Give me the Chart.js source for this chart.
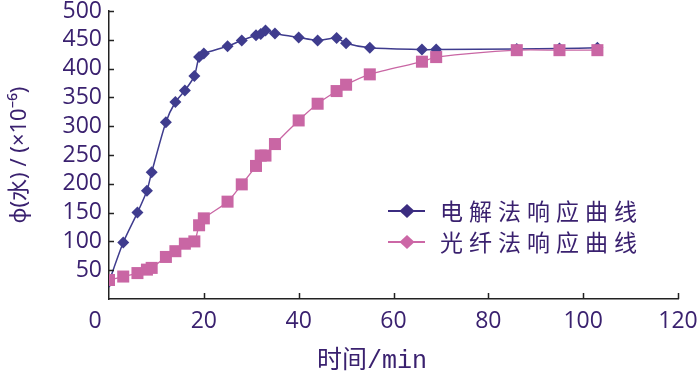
<!DOCTYPE html>
<html>
<head>
<meta charset="utf-8">
<script src="https://cdn.jsdelivr.net/npm/chart.js@4.4.1/dist/chart.umd.min.js"></script>
<style>
  html, body { margin: 0; padding: 0; background: #ffffff; }
  #wrap { width: 700px; height: 382px; }
</style>
</head>
<body>
<div id="wrap"><canvas id="c" width="700" height="382"></canvas></div>
<script>
// time (min)
const times = [0, 3, 6, 8, 9, 12, 14, 16, 18, 19, 20, 25, 28, 31, 32, 33, 35, 40, 44, 48, 50, 55, 66, 69, 86, 95, 103];
// 电解法 response
const electroValues = [30, 98, 150, 188, 220, 307, 342, 362, 387, 420, 426, 439, 449, 458, 460, 466, 461, 454, 449, 453, 444, 436, 433, 433, 434, 435, 436];
// 光纤法 response
const fiberValues = [33, 39, 45, 51, 54, 73, 83, 96, 100, 128, 140, 169, 199, 231, 249, 249, 269, 310, 339, 361, 372, 390, 412, 420, 432, 432, 432];
const seriesNames = ['电解法响应曲线', '光纤法响应曲线'];
const xTicks = [0, 20, 40, 60, 80, 100, 120];
const yTicks = [0, 50, 100, 150, 200, 250, 300, 350, 400, 450, 500];
const xTitle = '时间/min';
const yTitle = 'ϕ(水) / (×10⁻⁶)';

const BLUE = '#3f3c8e';
const PINK = '#c966a4';
const TEXT = '#3a216f';
const TICKFONT = { family: "'Open Sans', 'Noto Sans', sans-serif", size: 23, lineHeight: 1.2 };

function pts(vals) { return times.map((t, i) => ({ x: t, y: vals[i] })); }

const decorPlugin = {
  id: 'decor',
  afterDraw(chart) {
    const ctx = chart.ctx;
    const xs = chart.scales.x, ys = chart.scales.y;
    const ca = chart.chartArea;
    ctx.save();
    // inward tick marks
    ctx.strokeStyle = '#222';
    ctx.lineWidth = 1.5;
    ctx.beginPath();
    yTicks.forEach(v => {
      if (v === 0) return;
      const y = Math.round(ys.getPixelForValue(v)) + 0.5;
      ctx.moveTo(ca.left, y); ctx.lineTo(ca.left + 5, y);
    });
    xTicks.forEach(v => {
      if (v === 0) return;
      const x = Math.round(xs.getPixelForValue(v)) + 0.5;
      ctx.moveTo(x, ca.bottom); ctx.lineTo(x, ca.bottom - 6);
    });
    ctx.stroke();
    // origin label
    ctx.fillStyle = TEXT;
    ctx.font = "23px 'Open Sans', 'Noto Sans', sans-serif";
    ctx.textAlign = 'center';
    ctx.textBaseline = 'middle';
    ctx.fillText('0', xs.getPixelForValue(0) - 14, ca.bottom + 22);
    // x-axis title
    ctx.font = "25px 'Liberation Mono', 'Noto Sans CJK SC', monospace";
    ctx.textAlign = 'left';
    ctx.fillText(xTitle, 317, 361);
    // legend
    const rows = [{ c: '#3b2c80', t: seriesNames[0], y: 211 }, { c: '#cc67a6', t: seriesNames[1], y: 242 }];
    rows.forEach(r => {
      ctx.strokeStyle = r.c;
      ctx.lineWidth = 2;
      ctx.beginPath();
      ctx.moveTo(388, r.y); ctx.lineTo(425, r.y);
      ctx.stroke();
      ctx.fillStyle = r.c;
      ctx.beginPath();
      ctx.moveTo(407, r.y - 7); ctx.lineTo(414.5, r.y); ctx.lineTo(407, r.y + 7); ctx.lineTo(399.5, r.y);
      ctx.closePath();
      ctx.fill();
      ctx.fillStyle = TEXT;
      ctx.font = "23px 'Noto Sans CJK SC', sans-serif";
      ctx.letterSpacing = '6px';
      ctx.textAlign = 'left';
      ctx.textBaseline = 'middle';
      ctx.fillText(r.t, 440, r.y);
      ctx.letterSpacing = '0px';
    });
    ctx.restore();
  }
};

new Chart(document.getElementById('c'), {
  type: 'line',
  data: {
    datasets: [
      {
        label: seriesNames[0],
        data: pts(electroValues),
        borderColor: BLUE,
        backgroundColor: BLUE,
        borderWidth: 1.5,
        pointStyle: 'rectRot',
        pointRadius: 6,
        pointBorderWidth: 0,
        tension: 0.25,
        order: 2
      },
      {
        label: seriesNames[1],
        data: pts(fiberValues),
        borderColor: PINK,
        backgroundColor: PINK,
        borderWidth: 1.3,
        pointStyle: 'rect',
        pointRadius: 8.5,
        pointBorderWidth: 0,
        tension: 0.25,
        order: 1
      }
    ]
  },
  options: {
    responsive: false,
    animation: false,
    events: [],
    layout: { padding: { left: 0, right: 22, top: 11, bottom: 0 } },
    plugins: { legend: { display: false }, tooltip: { enabled: false } },
    scales: {
      x: {
        type: 'linear',
        min: 0, max: 120,
        afterBuildTicks(s) { s.ticks = xTicks.map(v => ({ value: v })); },
        afterFit(s) { s.height = 83; s.paddingLeft = 0; s.paddingRight = 0; },
        grid: { display: false, drawTicks: false },
        border: { display: true, color: '#222', width: 1.5 },
        ticks: {
          color: TEXT, font: TICKFONT, padding: 9, maxRotation: 0, autoSkip: false,
          callback: v => (v === 0 ? '' : String(v))
        },
        title: { display: false }
      },
      y: {
        type: 'linear',
        min: 0, max: 500,
        afterBuildTicks(s) { s.ticks = yTicks.map(v => ({ value: v })); },
        afterFit(s) { s.width = 109; s.paddingTop = 0; s.paddingBottom = 0; },
        grid: { display: false, drawTicks: false },
        border: { display: true, color: '#222', width: 1.5 },
        ticks: {
          color: TEXT, font: TICKFONT, padding: 7, autoSkip: false,
          callback: v => (v === 0 ? '' : String(v))
        },
        title: {
          display: true, text: yTitle, color: TEXT,
          font: { family: "'Noto Sans', 'Noto Sans CJK SC', sans-serif", size: 22, lineHeight: 1.2 },
          padding: { top: 7, bottom: 0 }
        }
      }
    }
  },
  plugins: [decorPlugin]
});
</script>
</body>
</html>
